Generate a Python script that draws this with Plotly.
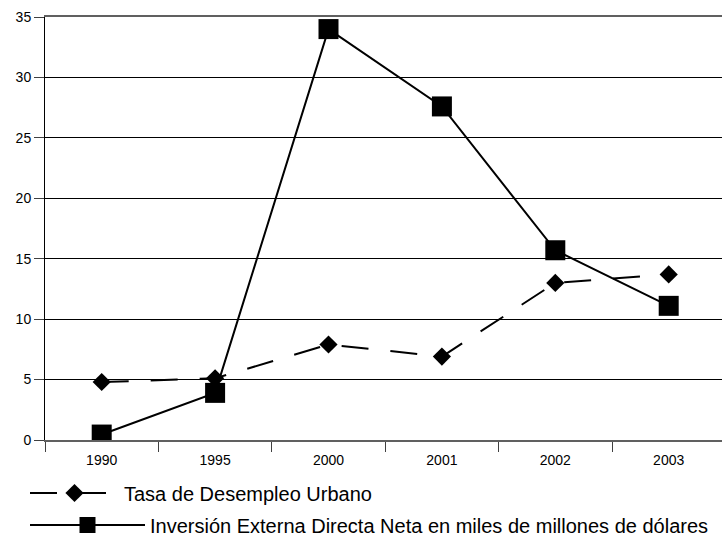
import plotly.graph_objects as go

years = ["1990", "1995", "2000", "2001", "2002", "2003"]
tasa_desempleo = [4.8, 5.1, 7.9, 6.9, 13.0, 13.7]
inversion = [0.45, 3.9, 34.0, 27.6, 15.7, 11.1]
y_ticks = [0, 5, 10, 15, 20, 25, 30, 35]

W, H = 722, 542
FONT = "Liberation Sans, Arial, sans-serif"

fig = go.Figure()
fig.add_trace(go.Scatter(
    x=years, y=inversion, mode="lines+markers",
    name="Inversión Externa Directa Neta en miles de millones de dólares",
    line=dict(color="black", width=2),
    marker=dict(symbol="square", size=20, color="black"),
    legend="legend2",
))
fig.add_trace(go.Scatter(
    x=years, y=tasa_desempleo, mode="lines+markers",
    name="Tasa de Desempleo Urbano",
    line=dict(color="black", width=2, dash="27px,22px"),
    marker=dict(symbol="diamond", size=14, color="black"),
    legend="legend",
))

fig.update_layout(
    width=W, height=H,
    margin=dict(l=45, r=0, t=17, b=102, autoexpand=False),
    paper_bgcolor="white", plot_bgcolor="white",
    font=dict(family=FONT, size=14, color="black"),
    xaxis=dict(
        type="category", range=[-0.5, 5.47],
        showline=True, linecolor="#606060", linewidth=1.5, mirror=True,
        ticks="outside", tickson="boundaries", ticklen=10, tickcolor="#404040",
        ticklabelstandoff=6,
        showgrid=False, tickangle=0, tickfont=dict(size=14, family=FONT),
    ),
    yaxis=dict(
        range=[0, 35], tickvals=y_ticks,
        showline=True, linecolor="black", linewidth=1,
        ticks="outside", ticklen=10, tickcolor="#404040",
        showgrid=True, gridcolor="black", gridwidth=1,
        zeroline=False, tickfont=dict(size=14, family=FONT),
    ),
    legend=dict(
        xref="container", yref="container", x=25 / W, y=49 / H,
        xanchor="left", yanchor="middle", itemwidth=89,
        font=dict(size=20, family=FONT), bgcolor="rgba(0,0,0,0)",
    ),
    legend2=dict(
        xref="container", yref="container", x=25 / W, y=17 / H,
        xanchor="left", yanchor="middle", itemwidth=115,
        font=dict(size=20, family=FONT), bgcolor="rgba(0,0,0,0)",
    ),
    showlegend=True,
)

fig.write_html("out.html", config={"displayModeBar": False},
               post_script="document.body.style.margin='0';")
